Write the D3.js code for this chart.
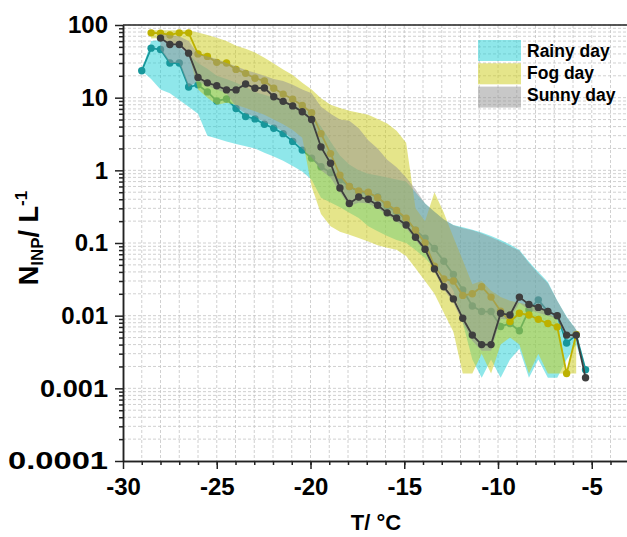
<!DOCTYPE html>
<html>
<head>
<meta charset="utf-8">
<script src="https://cdn.jsdelivr.net/npm/d3@7"></script>
<style>
body { margin: 0; background: #fff; }
svg { display: block; }
text { font-family: Arial, "Liberation Sans", sans-serif; font-weight: bold; }
</style>
</head>
<body>
<svg></svg>
<script>
// temperatures of the freezing steps (deg C)
let temps = [-29.00, -28.50, -28.00, -27.50, -27.00, -26.50, -26.00, -25.50,
             -25.00, -24.48, -23.97, -23.46, -22.96, -22.46, -21.96, -21.46,
             -20.95, -20.44, -19.94, -19.44, -18.93, -18.43, -17.93, -17.43,
             -16.92, -16.42, -15.91, -15.41, -14.90, -14.40, -13.89, -13.39,
             -12.89, -12.38, -11.88, -11.37, -10.87, -10.37, -9.86, -9.36,
             -8.86, -8.35, -7.85, -7.34, -6.84, -6.34, -5.83, -5.33];

// N_INP per litre, mean and range of each weather type
let rainy = [23.5, 48, 46, 30, 30, 14, 15, 12, 9, 9.6, 7.1, 5.5, 5.1, 4.3, 3.8, 3.2,
             2.5, 1.9, 1.47, 1.12, 0.93, 0.74, 0.6, 0.51, 0.48, 0.43, 0.32, 0.27, 0.21, 0.15, 0.116, 0.084,
             0.056, 0.037, 0.0226, 0.0136, 0.0114, 0.0114, 0.0071, 0.0078, 0.0062, 0.012, 0.0165, 0.0114, 0.01, 0.0042, 0.0054, 0.0018];
let rainyLow = [23.5, 18, 13, 11.5, 9.3, 7.5, 6, 3.0, 2.75, 2.5, 2.3, 2.15, 2.0, 1.75, 1.55, 1.35,
                1.15, 0.96, 0.74, 0.42, 0.36, 0.31, 0.26, 0.22, 0.17, 0.145, 0.125, 0.11, 0.1, 0.08, 0.062, 0.045,
                0.034, 0.022, 0.008, 0.0025, 0.0014, 0.0025, 0.0014, 0.0025, 0.0035, 0.0014, 0.0025, 0.0014, 0.0014, 0.0025, 0.004, 0.0016];
let rainyHigh = [23.5, 60, 62, 55, 50, 40, 30, 25, 20, 18, 16, 14, 12, 11, 10, 9,
                 8, 7, 6, 4, 2.5, 1.6, 1.2, 1.0, 0.9, 0.85, 0.8, 0.75, 0.7, 0.5, 0.35, 0.27,
                 0.21, 0.177, 0.165, 0.152, 0.14, 0.125, 0.11, 0.095, 0.08, 0.055, 0.04, 0.029, 0.016, 0.0097, 0.0064, 0.0016];

let fog = [null, 78, 77, 73, 78, 78, 40, 37, 30.6, 30, 24.5, 21.6, 18.5, 17, 13.5, 11.2,
           9.5, 7.8, 6.2, 3.2, 1.7, 0.86, 0.6, 0.52, 0.5, 0.42, 0.34, 0.28, 0.22, 0.15, 0.1, 0.048,
           0.032, 0.03, 0.019, 0.02, 0.025, 0.018, 0.0115, 0.0083, 0.0108, 0.0102, 0.0089, 0.0078, 0.007, 0.0016, 0.0055, null];
let fogLow = [null, 65, 66, 55, 55, 42, 13, 10, 8, 8.5, 8, 7.2, 6.5, 5.8, 5, 4.3,
              3.6, 2.8, 0.6, 0.25, 0.17, 0.143, 0.13, 0.117, 0.105, 0.093, 0.086, 0.081, 0.066, 0.045, 0.03, 0.02,
              0.011, 0.006, 0.0016, 0.0016, 0.003, 0.0016, 0.004, 0.005, 0.004, 0.0016, 0.003, 0.0016, 0.0016, 0.0016, 0.0016, null];
let fogHigh = [null, 85, 85, 85, 85, 85, 79, 73, 67, 60, 52, 47, 42, 35.5, 29.5, 24.5,
               20.5, 16, 13, 9.8, 8, 7.2, 6.6, 6.2, 5.8, 5.1, 4.4, 3.5, 2.4, 0.3, 0.2, 0.5,
               0.26, 0.12, 0.058, 0.027, 0.03, 0.022, 0.018, 0.016, 0.015, 0.014, 0.013, 0.011, 0.009, 0.0016, 0.0055, null];

let sunny = [null, null, 66, 54, 54, 41, 19, 16, 14.6, 12.8, 12.8, 15.4, 13.5, 13.6, 10.3, 8.9,
             7.7, 6.4, 5.0, 2.1, 1.25, 0.57, 0.35, 0.43, 0.40, 0.33, 0.26, 0.22, 0.177, 0.12, 0.082, 0.044,
             0.025, 0.017, 0.0092, 0.0054, 0.004, 0.004, 0.0108, 0.0102, 0.018, 0.0143, 0.013, 0.0114, 0.01, 0.0054, 0.0054, 0.0014];
let sunnyLow = [null, null, 46, 30, 30, 14, 17, 14.5, 13, 11.5, 7.5, 6, 5.5, 4.6, 4.1, 3.4,
                2.7, 2.0, 1.5, 1.0, 0.8, 0.5, 0.32, 0.36, 0.35, 0.3, 0.24, 0.2, 0.16, 0.11, 0.075, 0.04,
                0.023, 0.015, 0.008, 0.0045, 0.0033, 0.0033, 0.009, 0.009, 0.015, 0.012, 0.011, 0.01, 0.009, 0.0048, 0.005, 0.0014];
let sunnyHigh = [null, null, 75, 72, 70, 60, 40, 37, 34, 30, 27, 24, 22, 20, 18, 17,
                 15, 13, 11.5, 7.5, 6, 5, 4.8, 3.8, 2.6, 2.0, 1.4, 1.1, 0.8, 0.55, 0.35, 0.27,
                 0.21, 0.175, 0.16, 0.15, 0.135, 0.12, 0.105, 0.09, 0.078, 0.053, 0.038, 0.028, 0.016, 0.0095, 0.0064, 0.0014];

let legendNames = ['Rainy day', 'Fog day', 'Sunny day'];
let xTicks = [-30, -25, -20, -15, -10, -5];
let yTicks = [0.0001, 0.001, 0.01, 0.1, 1, 10, 100];
let yTickLabels = ['0.0001', '0.001', '0.01', '0.1', '1', '10', '100'];

let width = 627;
let height = 537;
let padLeft = 123, padRight = 629.25, padTop = 25, padBottom = 461;

let svg = d3.select('svg').attr('width', width).attr('height', height);

let xScale = d3.scaleLinear().domain([-30, -3]).range([padLeft, padRight]);
let yScale = d3.scaleLog().domain([1e-4, 100]).range([padBottom, padTop]);

/* dashed grid, one line per degree and per log minor step */
let grid = svg.append('g')
    .attr('stroke', '#c4c4c4')
    .attr('stroke-width', 0.8)
    .attr('stroke-dasharray', '3,2');

let xMinor = d3.range(-29, -2);
grid.selectAll('.vg').data(xMinor).enter().append('line')
    .attr('x1', d => xScale(d)).attr('x2', d => xScale(d))
    .attr('y1', padTop).attr('y2', padBottom);

let yMinor = [];
yTicks.forEach(t => {
    if (t < 100) d3.range(1, 10).forEach(m => yMinor.push(t * m));
});
yMinor.push(100);
grid.selectAll('.hg').data(yMinor.filter(v => v > 1.0001e-4)).enter().append('line')
    .attr('x1', padLeft).attr('x2', width)
    .attr('y1', d => yScale(d)).attr('y2', d => yScale(d));

/* bands and lines, drawn series after series */
let series = [
    {mean: rainy, low: rainyLow, high: rainyHigh, band: '#1fcfd6', line: '#17979b'},
    {mean: fog, low: fogLow, high: fogHigh, band: '#cccc16', line: '#bdb100'},
    {mean: sunny, low: sunnyLow, high: sunnyHigh, band: '#919191', line: '#3e3e3e'}
];

let idx = d3.range(temps.length);

series.forEach(s => {
    let area = d3.area()
        .defined(i => s.low[i] != null)
        .x(i => xScale(temps[i]))
        .y0(i => yScale(s.low[i]))
        .y1(i => yScale(s.high[i]));
    svg.append('path')
        .datum(idx)
        .attr('d', area)
        .attr('fill', s.band)
        .attr('fill-opacity', 0.5);

    let line = d3.line()
        .defined(i => s.mean[i] != null)
        .x(i => xScale(temps[i]))
        .y(i => yScale(s.mean[i]));
    svg.append('path')
        .datum(idx)
        .attr('d', line)
        .attr('fill', 'none')
        .attr('stroke', s.line)
        .attr('stroke-width', 1.8);

    svg.append('g').selectAll('circle')
        .data(idx.filter(i => s.mean[i] != null))
        .enter()
        .append('circle')
        .attr('cx', i => xScale(temps[i]))
        .attr('cy', i => yScale(s.mean[i]))
        .attr('r', 3.7)
        .attr('fill', s.line);
});

/* axes */
svg.append('g')
    .attr('transform', 'translate(0,' + padBottom + ')')
    .call(d3.axisBottom(xScale).tickValues(xTicks).tickSize(8).tickSizeOuter(0).tickPadding(9)
        .tickFormat(d => String(d)));
svg.append('g')
    .attr('transform', 'translate(0,' + padBottom + ')')
    .call(d3.axisBottom(xScale).tickValues(xMinor).tickSize(4).tickSizeOuter(0).tickFormat(''));

let yAxis = svg.append('g')
    .attr('transform', 'translate(' + padLeft + ',0)')
    .call(d3.axisLeft(yScale).tickValues(yTicks).tickSize(8).tickSizeOuter(0).tickPadding(7)
        .tickFormat((d, i) => yTickLabels[i]));
svg.append('g')
    .attr('transform', 'translate(' + padLeft + ',0)')
    .call(d3.axisLeft(yScale).tickValues(yMinor.filter(v => yTicks.indexOf(v) < 0 && v < 99)).tickSize(4)
        .tickSizeOuter(0).tickFormat(''));

svg.selectAll('.domain, .tick line').attr('stroke', '#222').attr('stroke-width', 1.5);
svg.selectAll('.tick text').attr('font-size', 24).attr('fill', '#000')
    .attr('font-family', 'Arial, "Liberation Sans", sans-serif').attr('font-weight', 'bold');

// the two smallest labels are printed wider in the original
yAxis.selectAll('.tick text')
    .filter((d) => d < 0.005)
    .attr('textLength', d => d < 0.0005 ? 100 : 68)
    .attr('lengthAdjust', 'spacingAndGlyphs');

// top frame line
svg.append('line')
    .attr('x1', padLeft).attr('x2', width)
    .attr('y1', padTop).attr('y2', padTop)
    .attr('stroke', '#222').attr('stroke-width', 1.5);

/* axis titles */
svg.append('text')
    .attr('x', 376).attr('y', 530)
    .attr('text-anchor', 'middle')
    .attr('font-size', 22)
    .text('T/ °C');

let yTitle = svg.append('text')
    .attr('transform', 'translate(38,238) rotate(-90)')
    .attr('text-anchor', 'middle')
    .attr('font-size', 27);
yTitle.append('tspan').text('N');
yTitle.append('tspan').attr('font-size', 17).attr('dy', 5).text('INP');
yTitle.append('tspan').attr('dy', -5).text('/ L');
yTitle.append('tspan').attr('font-size', 17).attr('dy', -11).text('-1');

/* legend */
let legend = svg.append('g');
legendNames.forEach((name, i) => {
    let y0 = 40 + i * 23.3;
    legend.append('rect')
        .attr('x', 478).attr('y', y0)
        .attr('width', 43).attr('height', 21)
        .attr('fill', series[i].band)
        .attr('fill-opacity', 0.5);
    legend.append('text')
        .attr('x', 527).attr('y', 57 + i * 22)
        .attr('font-size', 17.5)
        .text(name);
});
</script>
</body>
</html>
